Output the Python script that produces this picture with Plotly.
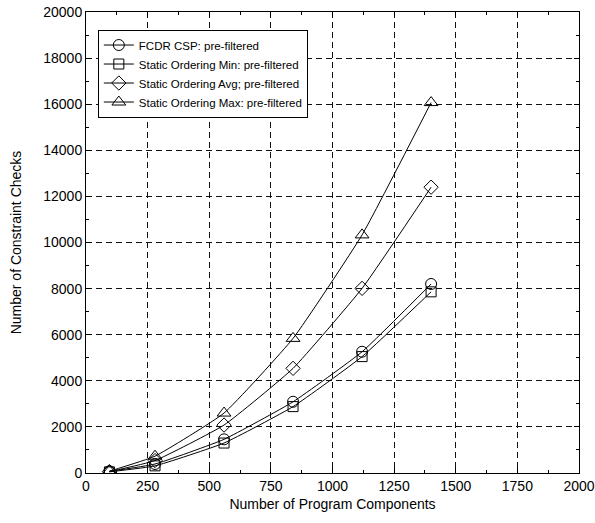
import plotly.graph_objects as go

# Problem sizes (number of program components)
components = [95, 280, 560, 840, 1120, 1400]

# Constraint checks for each solver configuration
fcdr_csp = [70, 390, 1460, 3090, 5260, 8200]
static_min = [50, 310, 1300, 2880, 5050, 7860]
static_avg = [60, 540, 2080, 4540, 8010, 12400]
static_max = [80, 730, 2600, 5840, 10330, 16070]

series_names = [
    "FCDR CSP: pre-filtered",
    "Static Ordering Min: pre-filtered",
    "Static Ordering Avg; pre-filtered",
    "Static Ordering Max: pre-filtered",
]
series_values = [fcdr_csp, static_min, static_avg, static_max]
symbols = ["circle-open", "square-open", "diamond-open", "triangle-up-open"]
sizes = [11, 10, 11, 12]

FONT = "Liberation Sans, Arial, sans-serif"

fig = go.Figure()
for name, vals, sym, sz in zip(series_names, series_values, symbols, sizes):
    fig.add_trace(go.Scatter(
        x=components, y=vals, name=name, mode="lines+markers",
        line=dict(color="black", width=1, shape="spline", smoothing=0.4),
        marker=dict(symbol=sym, size=sz, color="black", line=dict(width=1, color="black")),
    ))

axis_common = dict(
    showline=True, linecolor="black", linewidth=1, mirror="ticks",
    ticks="inside", ticklen=5, tickcolor="black",
    showgrid=True, gridcolor="#111111", gridwidth=1, griddash="6px,4px",
    zeroline=False, automargin=False,
    tickfont=dict(family=FONT, size=14, color="black"),
    title_font=dict(family=FONT, size=14, color="black"),
)

fig.update_xaxes(
    range=[0, 2000], tick0=0, dtick=250, tickformat="d",
    minor=dict(dtick=125, ticks="inside", ticklen=3, tickcolor="black", showgrid=False),
    title_text="Number of Program Components", title_standoff=6,
    **axis_common,
)
fig.update_yaxes(
    range=[0, 20000], tick0=0, dtick=2000, tickformat="d",
    minor=dict(dtick=1000, ticks="inside", ticklen=3, tickcolor="black", showgrid=False),
    title_text="Number of Constraint Checks", title_standoff=18,
    **axis_common,
)

fig.update_layout(
    width=595, height=523,
    margin=dict(l=86, r=16, t=12, b=50),
    plot_bgcolor="white", paper_bgcolor="white",
    font=dict(family=FONT, size=14, color="black"),
    legend=dict(
        x=0.024, y=0.962, xanchor="left", yanchor="top",
        bgcolor="white", bordercolor="black", borderwidth=1,
        font=dict(family=FONT, size=11.5, color="black"), tracegroupgap=0, itemwidth=30,
    ),
)

fig.write_html("out.html")
